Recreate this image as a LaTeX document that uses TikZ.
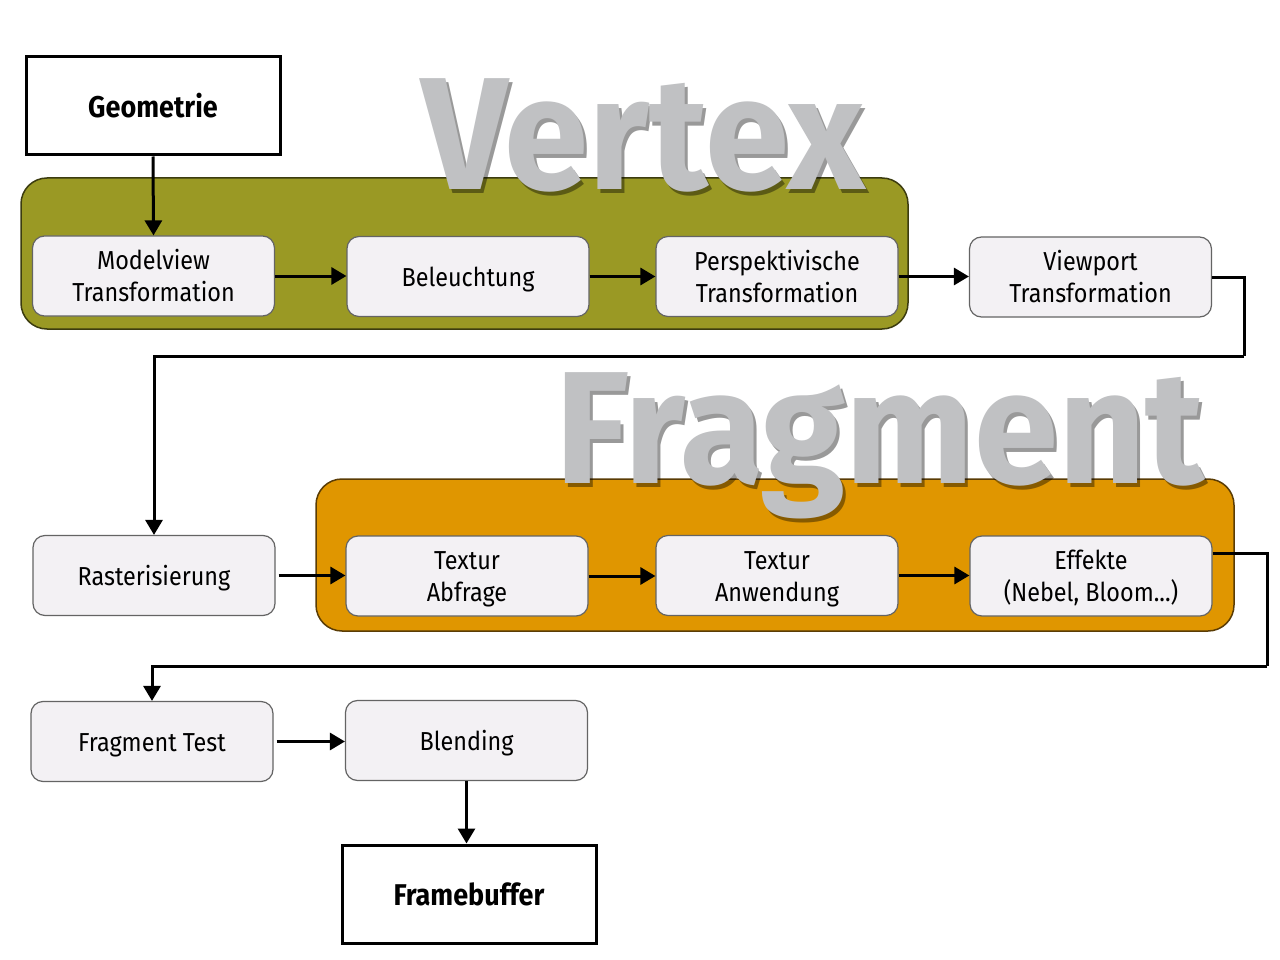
\documentclass[tikz,border=0pt]{standalone}
\usepackage{fontspec}
\setmainfont{Fira Sans}[FakeStretch=0.9]
\newfontfamily\bigwordfont{Fira Sans}[FakeStretch=0.95]
\usetikzlibrary{arrows.meta}
\definecolor{vgreen}{RGB}{154,153,36}
\definecolor{vgreenborder}{RGB}{60,60,15}
\definecolor{forange}{RGB}{224,150,0}
\definecolor{forangeborder}{RGB}{90,60,5}
\definecolor{boxfill}{RGB}{243,241,244}
\definecolor{boxborder}{RGB}{100,100,100}
\definecolor{bigtext}{RGB}{192,193,195}
\tikzset{
  stage/.style={draw=boxborder, line width=1.2pt, fill=boxfill, rounded corners=12pt,
    minimum width=242pt, minimum height=80pt, align=center, inner sep=0pt,
    font=\fontsize{26}{32}\selectfont,
    execute at begin node={\rule{0pt}{27pt}},
    execute at end node={\rule[-7pt]{0pt}{7pt}}},
  twoline/.style={execute at begin node={\rule{0pt}{58pt}}},
  endbox/.style={draw=black, line width=3pt, fill=white, minimum width=254pt,
    minimum height=98pt, inner sep=0pt, font=\fontsize{30}{34}\selectfont\bfseries},
  container/.style={line width=1.5pt, rounded corners=26pt, inner sep=0pt},
  arr/.style={line width=3pt, -{Triangle[length=15pt,width=17pt]}},
  bigword/.style={font=\bigwordfont\fontsize{160}{160}\selectfont\bfseries, inner sep=0pt, anchor=base},
}
\begin{document}
\begin{tikzpicture}[x=1pt,y=-1pt]
\useasboundingbox[fill=white] (0,0) rectangle (1280,960);

% containers
\node[container, draw=vgreenborder, fill=vgreen, minimum width=887pt, minimum height=151pt] (vc) at (464.5,253.5) {};
\node[container, draw=forangeborder, fill=forange, minimum width=918pt, minimum height=152pt] (fc) at (775,555) {};

% big words with shadow
\node[bigword, text=black, opacity=0.4] (vs) at (646,194) {Vertex};
\node[bigword, text=black, opacity=0.4] (fs) at (883,487) {Fragment};
\node[bigword, text=bigtext] (vw) at (643,190) {Vertex};
\node[bigword, text=bigtext] (fw) at (880,483) {Fragment};

% end boxes
\node[endbox] (geo) at (153,106) {Geometrie};
\node[endbox] (fb) at (469,894) {Framebuffer};

% stages
\node[stage, twoline] (mv) at (153.5,276) {Modelview\\Transformation};
\node[stage] (bel) at (468,276.5) {Beleuchtung};
\node[stage, twoline] (per) at (777,276.5) {Perspektivische\\Transformation};
\node[stage, twoline] (vp) at (1090.5,277) {Viewport\\Transformation};

\node[stage] (ras) at (154,575.5) {Rasterisierung};
\node[stage, twoline] (ta) at (467,576) {Textur\\Abfrage};
\node[stage, twoline] (tw) at (777,575.5) {Textur\\Anwendung};
\node[stage, twoline] (eff) at (1091,576) {Effekte\\(Nebel, Bloom...)};

\node[stage] (ft) at (152,741.5) {Fragment Test};
\node[stage] (bl) at (466.5,740.5) {Blending};

% connectors
\coordinate (t1) at (1244,356);
\coordinate (t2) at (1267,666);
\draw[arr] (geo.south) -- (mv.north);
\draw[arr] (mv.east) -- (mv.east -| bel.west);
\draw[arr] (bel.east) -- (bel.east -| per.west);
\draw[arr] (per.east) -- (per.east -| vp.west);
\draw[arr, -] (vp.east) -| (t1);
\draw[arr] (t1) -| (ras.north);
\draw[arr] ([xshift=3pt]ras.east) -- (ras.east -| ta.west);
\draw[arr] (ta.east) -- (ta.east -| tw.west);
\draw[arr] (tw.east) -- (tw.east -| eff.west);
\draw[arr, -] (eff.east) ++(0,-23) -| (t2);
\draw[arr] (t2) -| (ft.north);
\draw[arr] ([xshift=3pt]ft.east) -- (ft.east -| bl.west);
\draw[arr] (bl.south) -- (bl.south |- fb.north);
\end{tikzpicture}
\end{document}
